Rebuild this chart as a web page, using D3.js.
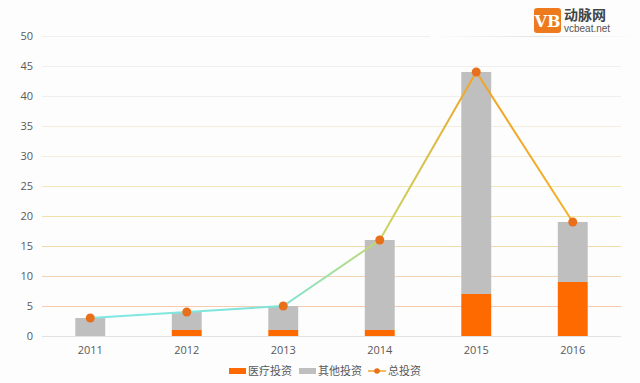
<!DOCTYPE html>
<html><head><meta charset="utf-8">
<script src="https://cdn.jsdelivr.net/npm/d3@7"></script>
<style>html,body{margin:0;padding:0;background:#fdfdfd;}svg{display:block;font-family:"Microsoft YaHei","Noto Sans CJK SC","Noto Sans",sans-serif;}</style>
</head><body>
<svg id="c" width="640" height="383"></svg>
<script>
const years = ["2011","2012","2013","2014","2015","2016"];
const medical = [0, 1, 1, 1, 7, 9];
const other = [3, 3, 4, 15, 37, 10];
const total = [3, 4, 5, 16, 44, 19];
const yTicks = [0,5,10,15,20,25,30,35,40,45,50];
const gridColors = ["#e2e2e2","#f6cbb0","#f1d3b8","#f0dca8","#f0e3a8","#f2e8b8","#f2ecd8","#f4eedc","#efefef","#f0f0f0","#f0f0f0"];
const legendLabels = ["医疗投资","其他投资","总投资"];

const svg = d3.select("#c");
const x = d3.scaleBand().domain(years).range([42,621]).paddingInner(0.69).paddingOuter(0.345);
const y = d3.scaleLinear().domain([0,50]).range([336,36]);

svg.append("g").selectAll("line").data(yTicks).join("line")
  .attr("x1",42).attr("x2",621)
  .attr("y1",d=>y(d)+0.5).attr("y2",d=>y(d)+0.5)
  .attr("stroke",(d,i)=>gridColors[i]).attr("stroke-width",1);

const ya = svg.append("g").attr("transform","translate(41,0)")
  .call(d3.axisLeft(y).tickValues(yTicks).tickSize(0).tickPadding(8));
ya.select(".domain").remove();
ya.selectAll("text").attr("fill","#595959").style("font-size","11px").style("font-family","'Open Sans','Noto Sans',sans-serif");

const xa = svg.append("g").attr("transform","translate(0,336)")
  .call(d3.axisBottom(x).tickSize(0).tickPadding(10));
xa.select(".domain").remove();
xa.selectAll("text").attr("fill","#595959").style("font-size","11px").style("font-family","'Open Sans','Noto Sans',sans-serif");

const stack = years.map((yr,i)=>({yr, m:medical[i], o:other[i]}));
svg.append("g").selectAll("rect").data(stack).join("rect")
  .attr("x",d=>x(d.yr)).attr("width",x.bandwidth())
  .attr("y",d=>y(d.m)).attr("height",d=>y(0)-y(d.m))
  .attr("fill","#ff6a00");
svg.append("g").selectAll("rect").data(stack).join("rect")
  .attr("x",d=>x(d.yr)).attr("width",x.bandwidth())
  .attr("y",d=>y(d.m+d.o)).attr("height",d=>y(d.m)-y(d.m+d.o))
  .attr("fill","#bfbfbf");

const cx = yr => x(yr)+x.bandwidth()/2;
const defs = svg.append("defs");
const g = defs.append("linearGradient").attr("id","lg").attr("gradientUnits","userSpaceOnUse")
  .attr("x1",cx("2011")).attr("x2",cx("2016")).attr("y1",0).attr("y2",0);
const span = cx("2016")-cx("2011");
const stops = [["2011","#7fe8e2"],["2013","#7fe4d8"],["2014","#c6d86a"],["2015","#f0a429"],["2016","#f1b22a"]];
stops.forEach(([yr,c])=>g.append("stop").attr("offset",(cx(yr)-cx("2011"))/span).attr("stop-color",c));

const line = d3.line().x((d,i)=>cx(years[i])).y(d=>y(d));
svg.append("path").datum(total).attr("d",line).attr("fill","none")
  .attr("stroke","url(#lg)").attr("stroke-width",2);
svg.append("g").selectAll("circle").data(total).join("circle")
  .attr("cx",(d,i)=>cx(years[i])).attr("cy",d=>y(d)).attr("r",4.5).attr("fill","#e8701a");

const lg = svg.append("g");
const ly = 371;
lg.append("rect").attr("x",229).attr("y",ly-3).attr("width",17).attr("height",6).attr("fill","#ff6a00");
lg.append("text").attr("x",248).attr("y",ly+4).text(legendLabels[0]).attr("fill","#595959").style("font-size","11px");
lg.append("rect").attr("x",299).attr("y",ly-3).attr("width",17).attr("height",6).attr("fill","#bfbfbf");
lg.append("text").attr("x",318).attr("y",ly+4).text(legendLabels[1]).attr("fill","#595959").style("font-size","11px");
lg.append("line").attr("x1",368).attr("x2",386).attr("y1",ly).attr("y2",ly).attr("stroke","#f0a429").attr("stroke-width",1.5);
lg.append("circle").attr("cx",377).attr("cy",ly).attr("r",2.8).attr("fill","#e8701a");
lg.append("text").attr("x",388).attr("y",ly+4).text(legendLabels[2]).attr("fill","#595959").style("font-size","11px");

const logo = svg.append("g");
logo.append("rect").attr("x",534).attr("y",8).attr("width",27).attr("height",25).attr("rx",3).attr("fill","#ee7a1e");
logo.append("text").attr("x",547.5).attr("y",27).attr("text-anchor","middle").text("VB").attr("fill","#fff")
  .style("font-size","16px").style("font-weight","bold").style("font-family","'DejaVu Serif',serif");
logo.append("text").attr("x",564).attr("y",20).text("动脉网").attr("fill","#444").style("font-size","14px").style("font-weight","bold");
logo.append("text").attr("x",564).attr("y",32).text("vcbeat.net").attr("fill","#555").style("font-size","10px").style("font-family","'Liberation Sans',Arial,sans-serif");
const lgr = defs.append("linearGradient").attr("id","lgr");
lgr.append("stop").attr("offset",0).attr("stop-color","#fdfdfd");
lgr.append("stop").attr("offset",0.5).attr("stop-color","#e4e4e4");
lgr.append("stop").attr("offset",1).attr("stop-color","#fdfdfd");
logo.append("rect").attr("x",430).attr("y",36).attr("width",210).attr("height",1).attr("fill","url(#lgr)");
</script>
</body></html>
